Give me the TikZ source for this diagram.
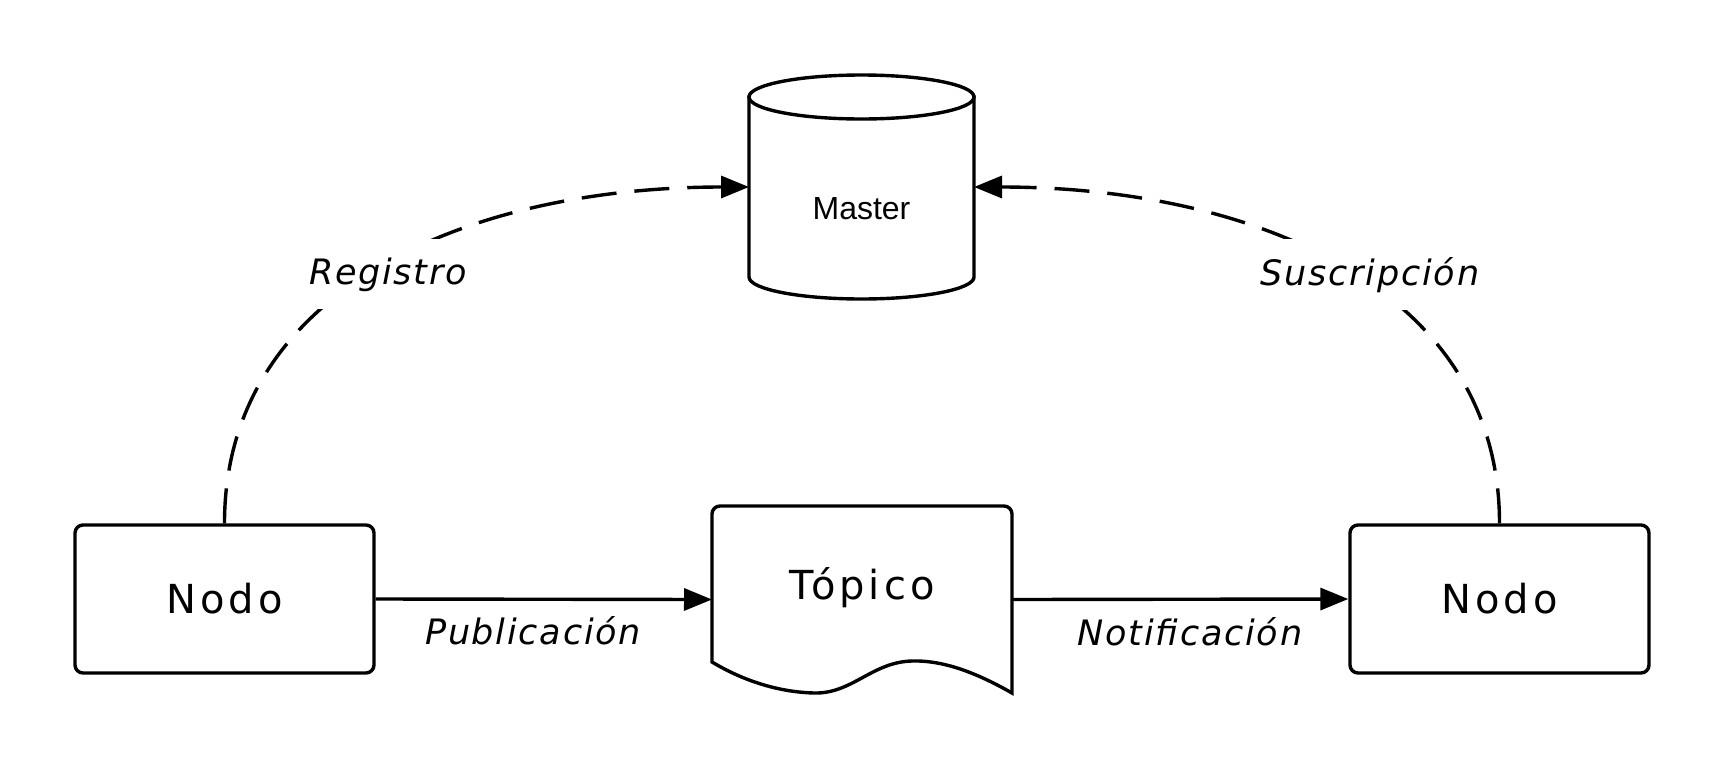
\documentclass[tikz,border=0pt]{standalone}
\usepackage{fontspec}
\usetikzlibrary{arrows.meta}
\newfontfamily\nodofont[LetterSpace=10]{DejaVu Sans}
\newfontfamily\etiqfont[LetterSpace=5]{DejaVu Sans}
\newfontfamily\masterfont{Liberation Sans}

\begin{document}
\begin{tikzpicture}[
  x=1pt, y=-1pt,
  caja/.style={rectangle, rounded corners=8pt, draw=black, line width=3.4pt, fill=white,
               minimum width=299pt, minimum height=148pt, inner sep=0pt,
               font=\nodofont\fontsize{40}{48}\selectfont},
  forma/.style={rectangle, inner sep=0pt, outer sep=0pt},
  borde/.style={draw=black, line width=3.4pt, fill=white},
  etiq/.style={anchor=base, inner sep=0pt, font=\etiqfont\itshape\fontsize{35}{42}\selectfont},
  tapa/.style={anchor=base, fill=white, inner sep=18pt, font=\etiqfont\itshape\fontsize{35}{42}\selectfont},
  flecha/.style={line width=3.4pt, -{Triangle[length=28pt, width=22pt]}},
  dflecha/.style={flecha, dash pattern=on 35pt off 18pt},
]
\fill[white] (0,0) rectangle (1725,769);
\useasboundingbox (0,0) rectangle (1725,769);

% Nodos
\node[caja]  (nodoL)  at (224.5,599)  {Nodo};
\node[caja]  (nodoR)  at (1499.5,599) {Nodo};
\node[forma, minimum width=300pt, minimum height=187pt] (topico) at (862,599.5) {};
\node[forma, minimum width=225pt, minimum height=224pt] (master) at (861.5,187) {};

% Topico (documento con borde ondulado)
\begin{scope}[shift={(topico.north west)}]
  \draw[borde] (0,156) -- (0,8) .. controls (0,3.6) and (3.6,0) .. (8,0)
    -- (292,0) .. controls (296.4,0) and (300,3.6) .. (300,8) -- (300,187)
    .. controls (270,170) and (235,154) .. (200,155)
    .. controls (160,156) and (140,188) .. (102,187)
    .. controls (65,186) and (30,174) .. (0,156) -- cycle;
\end{scope}
\node[font=\nodofont\fontsize{40}{48}\selectfont] at ([yshift=12pt]topico.center) {Tópico};

% Master (cilindro)
\begin{scope}[shift={(master.north west)}]
  \draw[borde] (0,22) -- (0,202) .. controls (0,214.15) and (50.4,224) .. (112.5,224)
    .. controls (174.6,224) and (225,214.15) .. (225,202) -- (225,22) -- cycle;
  \draw[borde] (112.5,22) ellipse [x radius=112.5, y radius=22];
\end{scope}
\node[font=\masterfont\fontsize{32}{38}\selectfont] at ([yshift=-22pt]master.center) {Master};

% Conectores
\draw[flecha] (nodoL.east) -- (topico.west);
\draw[flecha] (topico.east) -- (nodoR.west);
\draw[dflecha] (nodoL.north) .. controls +(0,-235) and +(-279,0) .. (master.west);
\draw[dflecha] (nodoR.north) .. controls +(0,-235) and +(279,0) .. (master.east);

% Etiquetas
\node[etiq] at (533,644)  {Publicación};
\node[etiq] at (1190,645) {Notificación};
\node[tapa] at (388,284)  {Registro};
\node[tapa] at (1370,285) {Suscripción};

\end{tikzpicture}
\end{document}
